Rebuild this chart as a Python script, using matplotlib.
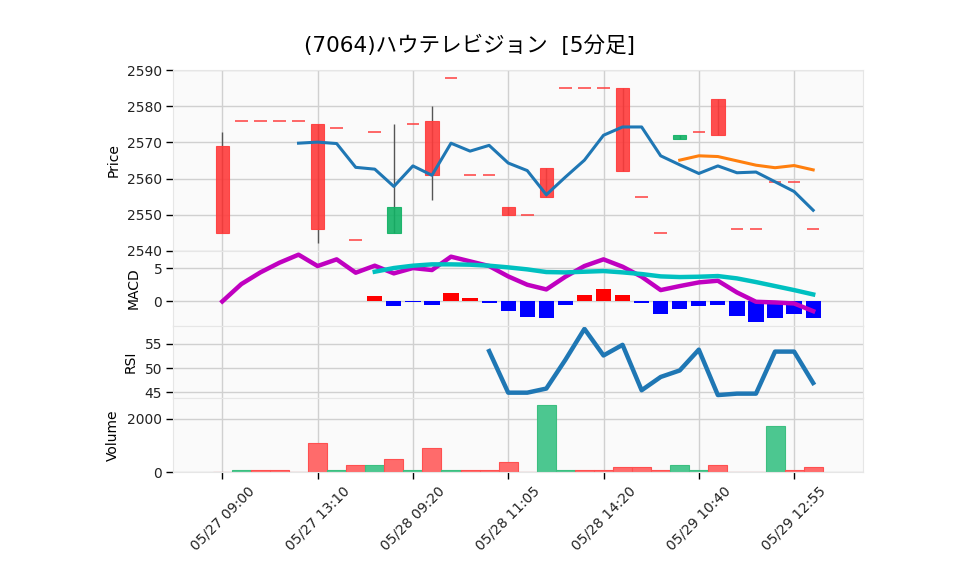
import matplotlib
matplotlib.use("Agg")
import matplotlib.pyplot as plt
import numpy as np

plt.rcParams["font.family"] = ["DejaVu Sans", "Noto Sans CJK JP"]

# --- data (5-minute bars) ---
opens = [2545, 2576, 2576, 2576, 2576, 2546, 2574, 2543, 2573, 2552, 2575, 2561,
         2588, 2561, 2561, 2550, 2550, 2555, 2585, 2585, 2585, 2562, 2555, 2545,
         2572, 2573, 2572, 2546, 2546, 2559, 2559, 2546]
highs = [2573, 2576, 2576, 2576, 2576, 2575, 2574, 2543, 2573, 2575, 2575, 2580,
         2588, 2561, 2561, 2552, 2550, 2563, 2585, 2585, 2585, 2585, 2555, 2545,
         2572, 2573, 2582, 2546, 2546, 2559, 2559, 2546]
lows = [2545, 2576, 2576, 2576, 2576, 2542, 2574, 2543, 2573, 2545, 2575, 2554,
        2588, 2561, 2561, 2550, 2550, 2555, 2585, 2585, 2585, 2562, 2555, 2545,
        2571, 2573, 2572, 2546, 2546, 2559, 2559, 2546]
closes = [2569, 2576, 2576, 2576, 2576, 2575, 2574, 2543, 2573, 2545, 2575, 2576,
          2588, 2561, 2561, 2552, 2550, 2563, 2585, 2585, 2585, 2585, 2555, 2545,
          2571, 2573, 2582, 2546, 2546, 2559, 2559, 2546]

ma_short_start = 4
ma_short = [2569.8, 2570.1, 2569.7, 2563.1, 2562.6, 2557.8, 2563.5, 2560.9, 2569.8,
            2567.6, 2569.2, 2564.3, 2562.2, 2555.5, 2560.4, 2565.1, 2572.0, 2574.3,
            2574.3, 2566.3, 2563.8, 2561.4, 2563.5, 2561.6, 2561.8, 2559.1, 2556.4,
            2551.2]
ma_long_start = 24
ma_long = [2565.1, 2566.3, 2566.1, 2564.9, 2563.7, 2563.0, 2563.6, 2562.4]

macd_line = [0.0, 2.6, 4.35, 5.8, 7.0, 5.3, 6.3, 4.3, 5.35, 4.2, 5.0, 4.7, 6.7, 6.0,
             5.3, 3.75, 2.5, 1.8, 3.7, 5.3, 6.3, 5.2, 3.7, 1.7, 2.3, 2.85, 3.1, 1.35,
             -0.05, -0.15, -0.3, -1.45]
signal_start = 8
signal_line = [4.45, 5.0, 5.35, 5.55, 5.55, 5.5, 5.35, 5.1, 4.8, 4.4, 4.35, 4.45,
               4.55, 4.35, 4.1, 3.75, 3.65, 3.7, 3.8, 3.45, 2.9, 2.3, 1.7, 1.05]
macd_hist = [0.8, -0.65, -0.15, -0.55, 1.3, 0.5, -0.25, -1.45, -2.3, -2.5, -0.55,
             0.95, 1.85, 0.95, -0.25, -1.85, -1.15, -0.7, -0.55, -2.2, -3.05, -2.45,
             -1.9, -2.45]

rsi_start = 14
rsi = [53.5, 44.9, 44.9, 45.75, 51.7, 58.1, 52.6, 54.8, 45.4, 48.15, 49.5, 53.8,
       44.4, 44.7, 44.7, 53.4, 53.4, 46.9]

volume = [0, 100, 100, 100, 0, 1100, 100, 290, 290, 510, 100, 890, 100, 100, 100,
          390, 0, 2500, 100, 100, 100, 210, 210, 100, 290, 100, 290, 0, 0, 1710,
          100, 210]
volume_up = [True, False, True, True, True, True, False, True, False, True, False,
             True, False, True, True, True, True, False, False, True, True, True,
             True, True, False, False, True, True, True, False, True, True]

tick_pos = [0, 5, 10, 15, 20, 25, 30]
tick_labels = ["05/27 09:00", "05/27 13:10", "05/28 09:20", "05/28 11:05",
               "05/28 14:20", "05/29 10:40", "05/29 12:55"]

title = "(7064)ハウテレビジョン  [5分足]"

# --- figure ---
W, H = 958, 575
fig = plt.figure(figsize=(W / 100, H / 100), dpi=100)


def px_axes(top, bottom, left=173.3, right=863.3):
    return fig.add_axes([left / W, 1 - bottom / H, (right - left) / W, (bottom - top) / H])


ax_p = px_axes(70, 251)
ax_m = px_axes(251, 325.5)
ax_r = px_axes(325.5, 397.5)
ax_v = px_axes(397.5, 472.3)
axes = [ax_p, ax_m, ax_r, ax_v]

x = np.arange(len(closes))
for ax in axes:
    ax.set_facecolor("#fafafa")
    ax.set_xlim(-2.57, 33.63)
    ax.set_xticks(tick_pos)
    ax.grid(True, color="#d0d0d0", lw=1.0)
    ax.set_axisbelow(True)
    for s in ax.spines.values():
        s.set_color("#e6e6e6")
    ax.tick_params(axis="y", labelsize=10, length=5, width=1, pad=3,
                   colors="black", labelcolor="#222222")
    ax.tick_params(axis="x", length=5, width=1)
for ax in axes[:-1]:
    ax.tick_params(axis="x", labelbottom=False, length=0)

# price panel
up_c, dn_c = "#ff3b3b", "#12b265"
o = np.array(opens)
c = np.array(closes)
is_up = c >= o
for i in x:
    if highs[i] != lows[i]:
        ax_p.vlines(i, lows[i], highs[i], color="#555555", lw=1.0, zorder=2)
    if opens[i] == closes[i]:
        ax_p.hlines(closes[i], i - 0.33, i + 0.33, color=up_c, lw=1.2, alpha=0.9, zorder=3)
bodies = np.abs(c - o)
mask = bodies > 0
ax_p.bar(x[mask], bodies[mask], bottom=np.minimum(o, c)[mask], width=0.7,
         color=[up_c if u else dn_c for u in is_up[mask]], alpha=0.9,
         edgecolor=[up_c if u else dn_c for u in is_up[mask]], lw=0.8, zorder=3)
ax_p.plot(np.arange(ma_short_start, ma_short_start + len(ma_short)), ma_short,
          color="#1f77b4", lw=2.2, zorder=4)
ax_p.plot(np.arange(ma_long_start, ma_long_start + len(ma_long)), ma_long,
          color="#ff7f0e", lw=2.2, zorder=4)
ax_p.set_ylim(2539.9, 2590.1)
ax_p.set_yticks([2540, 2550, 2560, 2570, 2580, 2590])
ax_p.set_ylabel("Price", fontsize=10)
ax_p.yaxis.set_label_coords(-0.0762, 0.5)

# MACD panel
h = np.array(macd_hist)
hx = np.arange(signal_start, signal_start + len(h))
ax_m.bar(hx, h, width=0.8, color=["#ff0000" if v >= 0 else "#0000ff" for v in h], zorder=2)
ax_m.plot(x, macd_line, color="#c000c0", lw=3.2, zorder=3)
ax_m.plot(np.arange(signal_start, signal_start + len(signal_line)), signal_line,
          color="#00c0c0", lw=3.2, zorder=3)
ax_m.set_ylim(-3.6, 7.55)
ax_m.set_yticks([0, 5])
ax_m.set_ylabel("MACD", fontsize=10)
ax_m.yaxis.set_label_coords(-0.048, 0.5)

# RSI panel
ax_r.plot(np.arange(rsi_start, rsi_start + len(rsi)), rsi, color="#1f77b4", lw=3.2)
ax_r.set_ylim(43.9, 58.8)
ax_r.set_yticks([45, 50, 55])
ax_r.set_ylabel("RSI", fontsize=10)
ax_r.yaxis.set_label_coords(-0.052, 0.5)

# volume panel
ax_v.bar(x, volume, width=1.0,
         color=["#ff6b6b" if u else "#4cc790" for u in volume_up],
         edgecolor=["#ff5050" if u else "#3cbf80" for u in volume_up], lw=0.8)
ax_v.set_ylim(0, 2790)
ax_v.set_yticks([0, 2000])
ax_v.set_ylabel("Volume", fontsize=10)
ax_v.yaxis.set_label_coords(-0.0772, 0.5)
ax_v.set_xticklabels(tick_labels, rotation=45, ha="center", fontsize=10, color="#222222")

fig.text(469 / W, 1 - 45 / H, title, ha="center", va="center", fontsize=15.5)

fig.savefig("out.png", dpi=100)
